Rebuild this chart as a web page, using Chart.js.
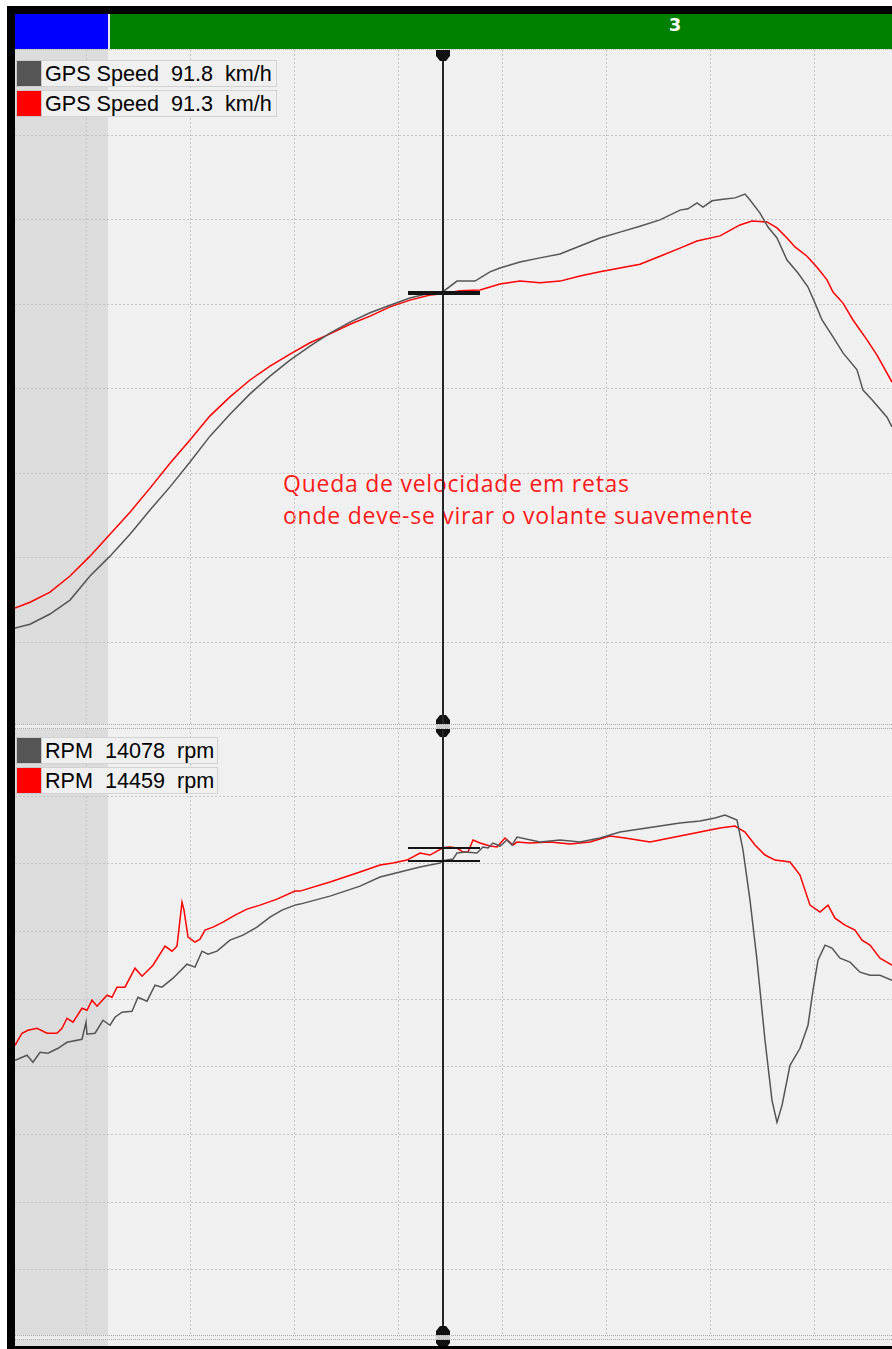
<!DOCTYPE html>
<html>
<head>
<meta charset="utf-8">
<title>GPS Speed / RPM</title>
<script src="https://cdn.jsdelivr.net/npm/chart.js@4.4.1/dist/chart.umd.min.js"></script>
<style>
  html, body { margin: 0; padding: 0; background: #fff; }
  body { width: 892px; height: 1349px; position: relative; overflow: hidden; }
  #frame { position: absolute; left: 7px; top: 6px; width: 885px; height: 1343px; background: #000; }
  #plotbg { position: absolute; left: 15px; top: 49px; width: 877px; height: 1297px; background: #f0f0f0; }
  #shadebg { position: absolute; left: 15px; top: 49px; width: 93px; height: 1297px; background: #dcdcdc; }
  .seg { position: absolute; top: 14px; height: 35px; }
  #segOut { left: 15px; width: 93px; background: #0000ff; }
  #segLap { left: 110px; width: 782px; background: #008000; }
  #segGap { left: 108px; width: 2px; background: #e8e8f0; }
  #lapNo { position: absolute; top: 14px; left: 645px; width: 60px; height: 35px; line-height: 35px;
           text-align: center; color: #fff; font: bold 18px "DejaVu Sans", sans-serif; }
  .wrap { position: absolute; left: 15px; width: 877px; }
  #wrapSpeed { top: 50px; height: 689px; z-index: 2; }
  #wrapRpm { top: 715px; height: 631px; z-index: 3; }
  .note { position: absolute; left: 283px; top: 468px; z-index: 1; color: #ff1a1a;
          font: 23px "Open Sans", sans-serif; line-height: 31.5px; letter-spacing: 0.75px; white-space: pre; }
  .legend { position: absolute; left: 16px; height: 27px; box-sizing: border-box; border: 1px solid #d2d2d2;
            background: #f0f0f0; z-index: 5; font: 21.6px "Liberation Sans", Arial, sans-serif; line-height: 25px;
            color: #000; white-space: pre; padding-left: 28px; padding-right: 6px; }
  .legend i { position: absolute; left: -1px; top: -1px; width: 26px; height: 27px; box-sizing: border-box;
              border: 1px solid #c8c8c8; }
  .sep { position: absolute; left: 15px; width: 877px; height: 5px; box-sizing: border-box; z-index: 6;
         border-top: 1px dotted #a8a8a8; border-bottom: 1px dotted #a8a8a8; background: rgba(240,240,240,0.85); }
  #topline { position: absolute; left: 15px; top: 49px; width: 877px; height: 0; border-top: 1px dotted #b8b8b8; z-index: 6; }
</style>
</head>
<body>
<div id="frame"></div>
<div id="plotbg"></div>
<div id="shadebg"></div>
<div class="seg" id="segOut"></div>
<div class="seg" id="segGap"></div>
<div class="seg" id="segLap"></div>
<div id="lapNo">3</div>
<div id="topline"></div>

<div class="note">Queda de velocidade em retas
onde deve-se virar o volante suavemente</div>

<div class="wrap" id="wrapSpeed"><canvas id="speedChart"></canvas></div>
<div class="wrap" id="wrapRpm"><canvas id="rpmChart"></canvas></div>

<div class="sep" style="top:724px"></div>
<div class="sep" style="top:1335px"></div>

<div id="legends"></div>

<script>
// ---- lap distance (m) where the cursor sits and where the out-lap ends ----
const cursorDist = 428;
const outLapEnd = 93;
const viewStart = 0;
const viewEnd = 877;
const distGrid = [71, 175, 279, 383, 487, 591, 695, 799];

// ---- channel names, units and read-outs at the cursor ----
const runColors = ['#555555', '#ff0000'];
const speedName = 'GPS Speed';
const speedUnit = 'km/h';
const speedAtCursor = [91.8, 91.3];
const rpmName = 'RPM';
const rpmUnit = 'rpm';
const rpmAtCursor = [14078, 14459];

// ---- GPS speed, run 1 (grey) ----
const speedDistA = [0, 15, 35, 55, 75, 95, 115, 135, 155, 175, 195, 215, 235, 255, 275, 295, 315, 335, 355, 375,
  395, 415, 428, 442, 460, 475, 485, 505, 525, 545, 565, 585, 605, 625, 645, 665, 673, 682, 688, 697,
  708, 720, 730, 735, 745, 753, 762, 772, 783, 793, 800, 807, 818, 828, 842, 848, 857, 872, 877];
const speedA = [12.2, 13.1, 15.5, 18.8, 24.5, 29.2, 34.4, 40.1, 45.6, 51.5, 57.6, 62.8, 67.6, 71.8, 75.6, 78.9, 82.0, 84.6, 86.8, 88.6,
  90.3, 91.5, 91.8, 94.3, 94.3, 96.5, 97.4, 98.8, 99.8, 100.7, 102.6, 104.5, 105.9, 107.3, 108.8, 111.1, 111.4, 112.8, 111.8, 113.3,
  113.7, 114.0, 114.9, 113.5, 110.4, 107.1, 104.5, 99.3, 96.2, 92.9, 89.1, 85.1, 81.1, 77.3, 73.3, 68.5, 66.2, 62.1, 59.8];

// ---- GPS speed, run 2 (red) ----
const speedDistB = [0, 15, 35, 55, 75, 95, 115, 135, 155, 175, 195, 215, 235, 255, 275, 295, 315, 335, 355, 375,
  395, 415, 428, 445, 465, 485, 505, 525, 545, 565, 585, 605, 625, 645, 665, 682, 705, 725, 737, 752,
  762, 772, 780, 792, 802, 812, 818, 828, 838, 852, 862, 872, 877];
const speedB = [16.9, 18.3, 20.7, 24.5, 29.2, 34.4, 39.6, 45.3, 51.2, 56.7, 62.4, 66.9, 70.9, 74.2, 77.0, 79.7, 81.8, 84.1, 86.0, 88.2,
  89.8, 91.0, 91.3, 92.0, 92.2, 93.6, 94.3, 93.9, 94.3, 95.5, 96.5, 97.4, 98.3, 100.2, 102.1, 103.8, 105.0, 107.6, 108.5, 108.3,
  106.9, 104.5, 102.4, 100.2, 97.6, 94.6, 91.7, 89.1, 85.1, 80.4, 76.8, 72.5, 70.4];

// ---- engine RPM, run 1 (grey) ----
const rpmDistA = [0, 12, 18, 25, 33, 43, 52, 67, 71, 72, 80, 88, 95, 100, 107, 117, 123, 132, 140, 147,
  158, 172, 180, 187, 193, 202, 215, 228, 242, 255, 267, 280, 285, 315, 345, 365, 385, 405, 425, 428,
  438, 442, 450, 462, 468, 473, 478, 485, 492, 497, 502, 525, 545, 565, 585, 605, 625, 645, 665, 685,
  700, 710, 722, 728, 735, 742, 750, 757, 762, 767, 775, 785, 793, 798, 803, 810, 817, 825, 835, 845,
  855, 865, 877];
const rpmA = [8179, 8327, 8120, 8415, 8386, 8534, 8711, 8800, 9303, 8948, 8978, 9362, 9214, 9451, 9599, 9629, 10043, 9925, 10398, 10339,
  10605, 11019, 10931, 11404, 11315, 11404, 11730, 11877, 12114, 12410, 12617, 12765, 12795, 13031, 13327, 13594, 13742, 13890, 14008, 14078,
  14126, 14304, 14334, 14304, 14481, 14452, 14600, 14511, 14689, 14541, 14777, 14629, 14689, 14629, 14748, 14925, 15014, 15103, 15192, 15251,
  15340, 15428, 15280, 14393, 12913, 11138, 8770, 6995, 6344, 6847, 8031, 8534, 9214, 10250, 11138, 11582, 11493, 11197, 11079, 10783,
  10694, 10694, 10546];

// ---- engine RPM, run 2 (red) ----
const rpmDistB = [0, 7, 13, 22, 32, 42, 47, 52, 58, 67, 72, 77, 82, 92, 97, 102, 110, 120, 127, 138,
  150, 157, 162, 167, 169, 173, 180, 185, 190, 198, 208, 220, 232, 245, 262, 280, 285, 315, 345, 365,
  378, 392, 405, 415, 428, 435, 442, 448, 453, 458, 465, 475, 482, 490, 498, 502, 515, 535, 555, 575,
  595, 610, 635, 665, 685, 705, 720, 730, 740, 750, 760, 775, 785, 795, 805, 813, 820, 830, 840, 847,
  855, 865, 877];
const rpmB = [8622, 8978, 9066, 9126, 8978, 8978, 9126, 9421, 9303, 9717, 9658, 9954, 9777, 10102, 10043, 10339, 10339, 10901, 10664, 10990,
  11552, 11404, 11552, 12854, 12617, 11818, 11670, 11759, 12025, 12114, 12262, 12469, 12647, 12765, 12943, 13179, 13179, 13446, 13742, 13949,
  14008, 14097, 14304, 14245, 14459, 14482, 14452, 14334, 14334, 14689, 14600, 14511, 14482, 14748, 14541, 14629, 14600, 14629, 14570, 14629,
  14807, 14748, 14629, 14807, 14925, 15044, 15103, 14925, 14541, 14245, 14097, 14038, 13653, 12765, 12558, 12765, 12380, 12173, 12025, 11730,
  11582, 11197, 10990];

// ---- vertical ranges and horizontal grid of each panel ----
const speedMin = -11, speedMax = 149;
const speedGrid = [9, 29, 49, 69, 89, 109, 129];
const rpmMin = 0, rpmMax = 18000;
const rpmGrid = [2000, 4000, 6000, 8000, 10000, 12000, 14000, 16000, 18000];

function pts(xs, ys) { return xs.map((x, i) => ({ x: x, y: ys[i] })); }

// legend boxes
function addLegend(top, width, text, color) {
  const d = document.createElement('div');
  d.className = 'legend';
  d.style.top = top + 'px';
  d.style.width = width + 'px';
  const sw = document.createElement('i');
  sw.style.background = color;
  d.appendChild(sw);
  d.appendChild(document.createTextNode(text));
  document.getElementById('legends').appendChild(d);
}
speedAtCursor.forEach((v, i) => addLegend(60 + i * 30, 261, `${speedName}  ${v.toFixed(1)}  ${speedUnit}`, runColors[i]));
rpmAtCursor.forEach((v, i) => addLegend(737 + i * 30, 202, `${rpmName}  ${v}  ${rpmUnit}`, runColors[i]));

// grid, out-lap shading, cursor and cursor markers
const panelDecor = {
  id: 'panelDecor',
  beforeDatasetsDraw(chart) {
    const { ctx, chartArea: a, scales: { x, y } } = chart;
    const o = chart.options.plugins.panelDecor;
    ctx.save();
    ctx.fillStyle = '#dcdcdc';
    const sx0 = x.getPixelForValue(viewStart), sx1 = x.getPixelForValue(outLapEnd);
    ctx.fillRect(sx0, a.top, sx1 - sx0, a.bottom - a.top);
    ctx.strokeStyle = '#c4c4c4';
    ctx.lineWidth = 1;
    ctx.setLineDash([2, 2]);
    ctx.beginPath();
    distGrid.forEach(d => {
      const px = Math.round(x.getPixelForValue(d)) + 0.5;
      ctx.moveTo(px, a.top); ctx.lineTo(px, a.bottom);
    });
    o.yGrid.forEach(v => {
      const py = Math.round(y.getPixelForValue(v)) + 0.5;
      ctx.moveTo(a.left, py); ctx.lineTo(a.right, py);
    });
    ctx.stroke();
    ctx.restore();
  },
  afterDatasetsDraw(chart) {
    const { ctx, chartArea: a, scales: { x, y } } = chart;
    const o = chart.options.plugins.panelDecor;
    const cx = x.getPixelForValue(cursorDist);
    ctx.save();
    ctx.fillStyle = '#111';
    ctx.strokeStyle = '#262626';
    ctx.lineWidth = 2;
    ctx.beginPath();
    ctx.moveTo(cx, 0); ctx.lineTo(cx, chart.height);
    ctx.stroke();
    // value markers at the cursor
    ctx.strokeStyle = '#141414';
    ctx.lineWidth = 2;
    o.marks.forEach(v => {
      const py = Math.round(y.getPixelForValue(v));
      ctx.beginPath();
      ctx.moveTo(cx - 35, py); ctx.lineTo(cx + 37, py);
      ctx.stroke();
    });
    // cursor handles
    o.handles.forEach(h => {
      ctx.beginPath();
      if (h.kind === 'tab') {
        const t = a.top;
        ctx.moveTo(cx - 7, t); ctx.lineTo(cx + 7, t); ctx.lineTo(cx + 7, t + 6);
        ctx.lineTo(cx + 3, t + 11); ctx.lineTo(cx - 3, t + 11); ctx.lineTo(cx - 7, t + 6);
      } else {
        const c = h.at === 'bottom' ? a.bottom : a.top;
        const t = c - 11, b = c + 11;
        ctx.moveTo(cx - 3, t); ctx.lineTo(cx + 3, t); ctx.lineTo(cx + 7, t + 5); ctx.lineTo(cx + 7, b - 5);
        ctx.lineTo(cx + 3, b); ctx.lineTo(cx - 3, b); ctx.lineTo(cx - 7, b - 5); ctx.lineTo(cx - 7, t + 5);
      }
      ctx.closePath();
      ctx.fill();
    });
    ctx.restore();
  }
};

function lineSet(label, data, color) {
  return { label, data, borderColor: color, backgroundColor: color, borderWidth: 1.5,
           pointRadius: 0, tension: 0, fill: false };
}

function panel(id, datasets, yMin, yMax, padding, decor) {
  return new Chart(document.getElementById(id), {
    type: 'line',
    data: { datasets },
    options: {
      responsive: true,
      maintainAspectRatio: false,
      animation: false,
      devicePixelRatio: 1,
      parsing: false,
      layout: { padding },
      scales: {
        x: { type: 'linear', min: viewStart, max: viewEnd, display: false },
        y: { type: 'linear', min: yMin, max: yMax, display: false }
      },
      plugins: { legend: { display: false }, tooltip: { enabled: false }, panelDecor: decor }
    },
    plugins: [panelDecor]
  });
}

panel('speedChart', [
  lineSet(speedName + ' 1', pts(speedDistA, speedA), runColors[0]),
  lineSet(speedName + ' 2', pts(speedDistB, speedB), runColors[1])
], speedMin, speedMax, { top: 0, bottom: 13, left: 0, right: 0 },
  { yGrid: speedGrid, marks: speedAtCursor, handles: [{ kind: 'tab' }, { kind: 'cap', at: 'bottom' }] });

panel('rpmChart', [
  lineSet(rpmName + ' 1', pts(rpmDistA, rpmA), runColors[0]),
  lineSet(rpmName + ' 2', pts(rpmDistB, rpmB), runColors[1])
], rpmMin, rpmMax, { top: 13, bottom: 9, left: 0, right: 0 },
  { yGrid: rpmGrid, marks: rpmAtCursor, handles: [{ kind: 'cap', at: 'bottom' }] });
</script>
</body>
</html>
